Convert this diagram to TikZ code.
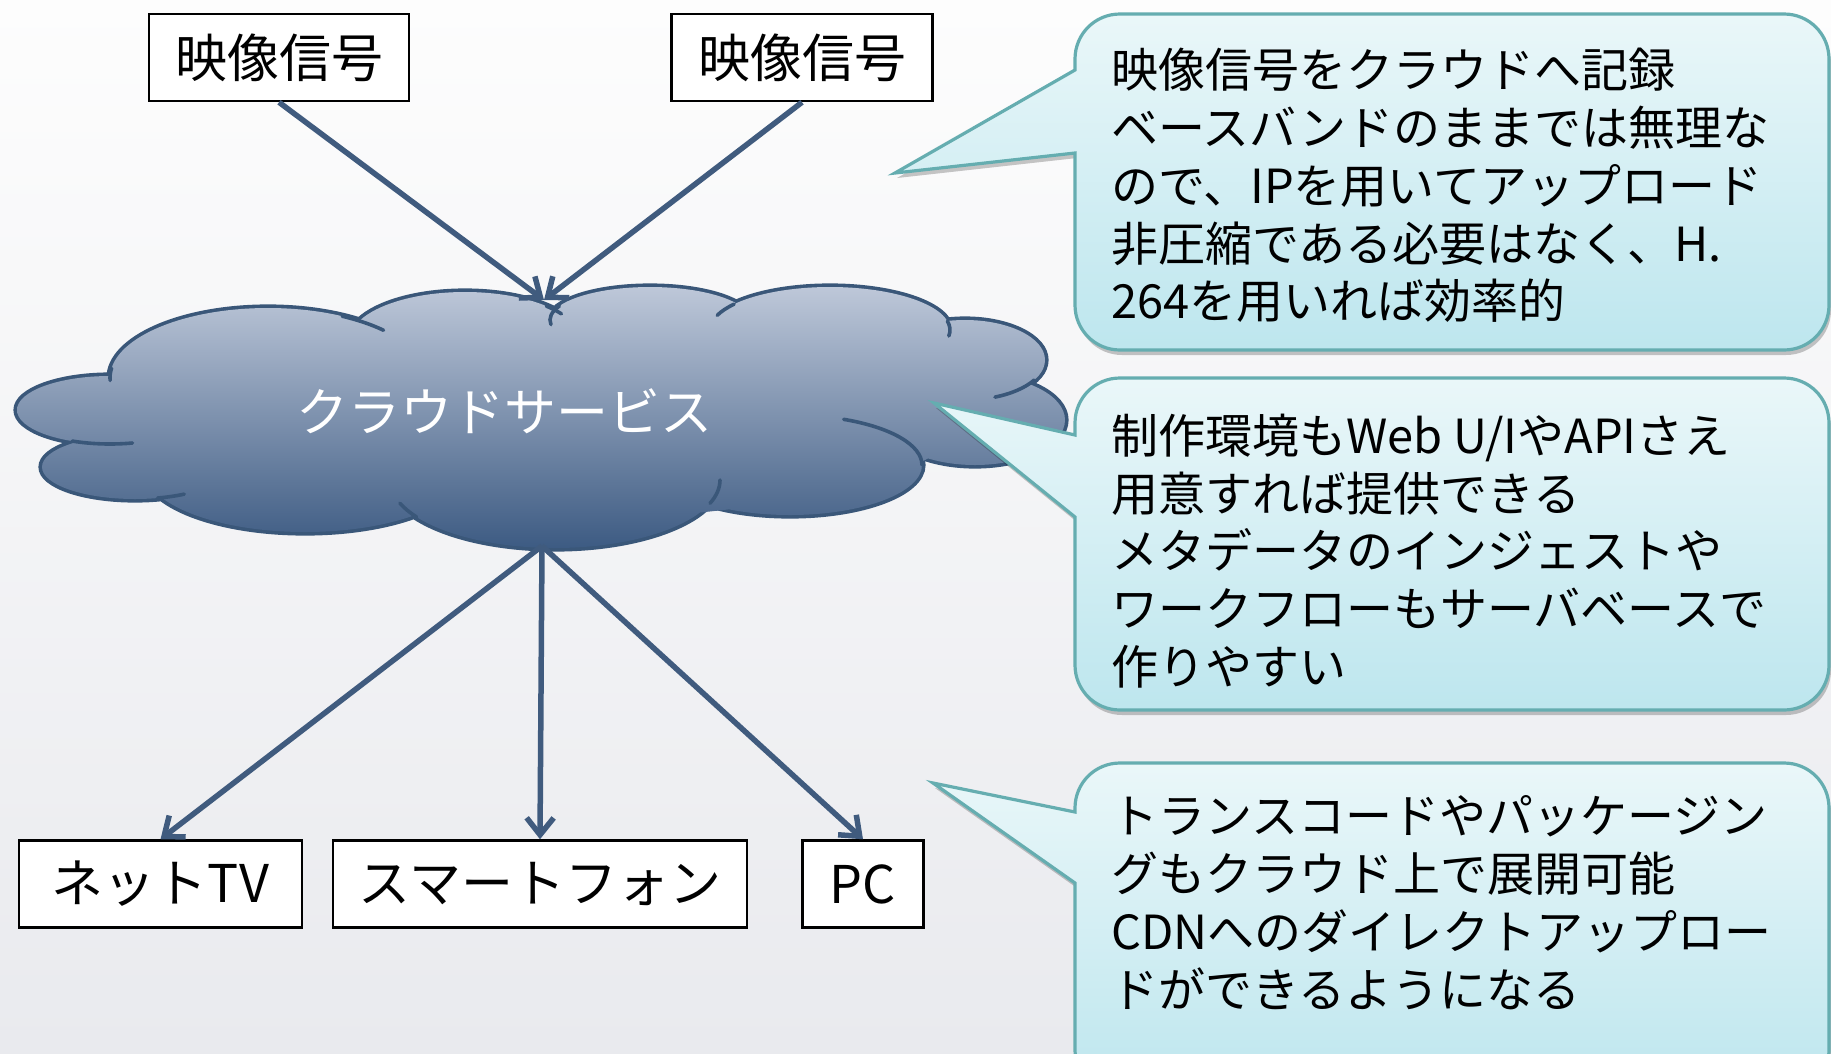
\documentclass[tikz,border=0pt]{standalone}
\usepackage{fontspec}
\newfontfamily\jp{Noto Sans CJK JP}
\usetikzlibrary{arrows.meta,shadows}
\definecolor{bgtop}{HTML}{FDFDFD}
\definecolor{bgbot}{HTML}{E9EAEE}
\definecolor{cloudtop}{HTML}{BEC8D9}
\definecolor{cloudbot}{HTML}{3C5A82}
\definecolor{cloudedge}{HTML}{3A5779}
\definecolor{arrowc}{HTML}{405B7E}
\definecolor{calltop}{HTML}{EAF7F9}
\definecolor{callbot}{HTML}{BDE6EE}
\definecolor{calledge}{HTML}{65ADB0}
\newcommand\innerarc[6]{\draw[cloudline] (#1,#2) ++(#5:#3 and #4) arc[start angle=#5, end angle=#6, x radius=#3, y radius=#4];}
\begin{document}
\begin{tikzpicture}[x=1pt,y=-1pt,
  lobes/.style={insert path={
    (268,378) ellipse [x radius=158, y radius=70]
    (110,410) ellipse [x radius=93, y radius=34]
    (135,467) ellipse [x radius=93, y radius=32]
    (305,470) ellipse [x radius=160, y radius=62]
    (555,480) ellipse [x radius=165, y radius=68]
    (790,465) ellipse [x radius=132, y radius=50]
    (975,420) ellipse [x radius=90, y radius=45]
    (965,360) ellipse [x radius=80, y radius=40]
    (830,330) ellipse [x radius=120, y radius=43]
    (650,320) ellipse [x radius=100, y radius=33]
    (465,340) ellipse [x radius=115, y radius=48]}},
  filler/.style={insert path={(540,420) ellipse [x radius=420, y radius=100]}},
  cloudline/.style={draw=cloudedge, line width=3.6pt, line cap=round},
  box/.style={draw=black, line width=2.5pt, fill=white, inner sep=0pt,
    minimum height=87pt, font=\jp\fontsize{52}{60}\selectfont, text=black},
  conn/.style={draw=arrowc, line width=5.5pt, -{Straight Barb[length=17pt,width=27pt]}},
  callout/.style={draw=calledge, line width=3.2pt, top color=calltop, bottom color=callbot,
    drop shadow={shadow xshift=2pt, shadow yshift=-5pt, opacity=0.22, fill=black}},
  calltext/.style={anchor=west, align=left, inner sep=0pt, text=black,
    font=\jp\fontsize{47}{57.8}\selectfont}
]
\useasboundingbox (0,0) rectangle (1831,1053);
\shade[top color=bgtop, bottom color=bgbot] (0,0) rectangle (1831,1053);

% cloud
\path[lobes, draw=cloudedge, line width=7.2pt];
\begin{scope}
  \path[lobes, filler, clip];
  \shade[top color=cloudtop, bottom color=cloudbot] (0,286) rectangle (1100,550);
\end{scope}
\innerarc{268}{378}{158}{70}{-62}{-43}
\innerarc{268}{378}{158}{70}{-172}{-182}
\innerarc{110}{410}{93}{34}{114}{76}
\innerarc{135}{467}{93}{32}{76}{58}
\innerarc{555}{480}{165}{68}{160}{147}
\innerarc{465}{340}{115}{48}{-45}{-33}
\innerarc{650}{320}{100}{33}{172}{205}
\innerarc{830}{330}{120}{43}{-160}{-143}
\innerarc{830}{330}{120}{43}{-12}{8}
\innerarc{965}{360}{80}{40}{30}{68}
\innerarc{790}{465}{132}{50}{-66}{0}
\innerarc{555}{480}{165}{68}{0}{20}
\node[text=white, font=\jp\fontsize{52}{60}\selectfont] (cloud) at (504,411) {クラウドサービス};
\coordinate (cloudtop) at (544,300);
\coordinate (cloudbot) at (542,546);

% boxes
\node[box, minimum width=260pt] (sig1) at (279,57.5) {映像信号};
\node[box, minimum width=261pt] (sig2) at (802,57.5) {映像信号};
\node[box, minimum width=283pt] (tv) at (160.5,884) {ネットTV};
\node[box, minimum width=414pt] (sp) at (540,884) {スマートフォン};
\node[box, minimum width=121pt] (pc) at (863,884) {PC};

% connectors
\draw[conn] (sig1.south) -- (cloudtop);
\draw[conn] (sig2.south) -- (cloudtop);
\draw[conn] (cloudbot) -- (tv.north);
\draw[conn] (cloudbot) -- (sp.north);
\draw[conn] (cloudbot) -- (pc.north);

% callouts
\draw[callout] (1075,70) -- (895,173) -- (1075,153) -- (1075,305)
  .. controls (1075,330) and (1095,350) .. (1120,350) -- (1784,350)
  .. controls (1809,350) and (1829,330) .. (1829,305) -- (1829,59)
  .. controls (1829,34) and (1809,14) .. (1784,14) -- (1120,14)
  .. controls (1095,14) and (1075,34) .. (1075,59) -- cycle;
\draw[callout] (1075,435) -- (934,403) -- (1075,517) -- (1075,665)
  .. controls (1075,690) and (1095,710) .. (1120,710) -- (1784,710)
  .. controls (1809,710) and (1829,690) .. (1829,665) -- (1829,423)
  .. controls (1829,398) and (1809,378) .. (1784,378) -- (1120,378)
  .. controls (1095,378) and (1075,398) .. (1075,423) -- cycle;
\draw[callout] (1075,812) -- (933,783) -- (1075,883) -- (1075,1050)
  .. controls (1075,1075) and (1095,1095) .. (1120,1095) -- (1784,1095)
  .. controls (1809,1095) and (1829,1075) .. (1829,1050) -- (1829,808)
  .. controls (1829,783) and (1809,763) .. (1784,763) -- (1120,763)
  .. controls (1095,763) and (1075,783) .. (1075,808) -- cycle;

\node[calltext] (t1) at (1111,185.5) {映像信号をクラウドへ記録\\ベースバンドのままでは無理な\\ので、IPを用いてアップロード\\非圧縮である必要はなく、H.\\264を用いれば効率的};
\node[calltext] (t2) at (1111,551) {制作環境もWeb U/IやAPIさえ\\用意すれば提供できる\\メタデータのインジェストや\\ワークフローもサーバベースで\\作りやすい};
\node[calltext] (t3) at (1111,902.5) {トランスコードやパッケージン\\グもクラウド上で展開可能\\CDNへのダイレクトアップロー\\ドができるようになる};
\end{tikzpicture}
\end{document}
